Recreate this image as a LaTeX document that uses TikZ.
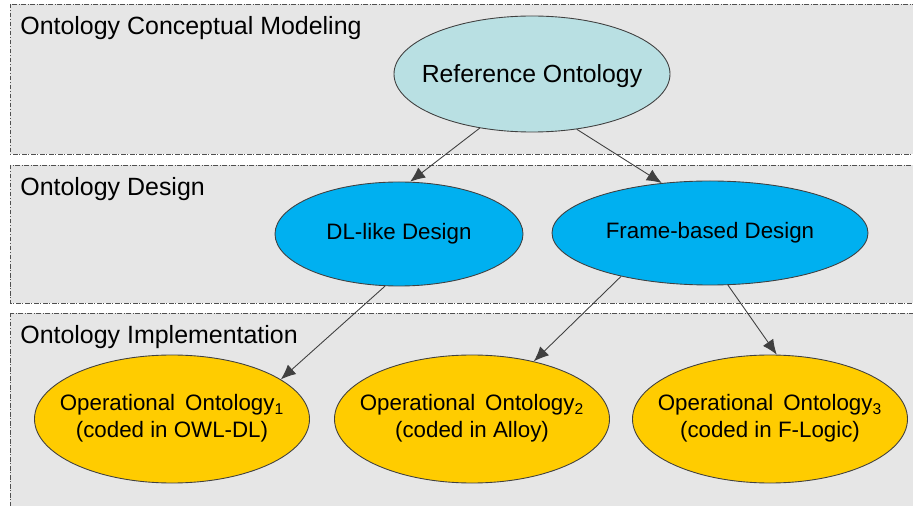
\documentclass[tikz,border=0pt]{standalone}
\usepackage{fontspec}
\setmainfont{Liberation Sans}
\usetikzlibrary{shapes.geometric,arrows.meta}

\definecolor{bandgray}{HTML}{E6E6E6}
\definecolor{bandline}{HTML}{505050}
\definecolor{ovalline}{HTML}{404040}
\definecolor{refcyan}{HTML}{B9E0E3}
\definecolor{designblue}{HTML}{00B0F0}
\definecolor{opyellow}{HTML}{FFCC00}

\newcommand{\ovaltext}[1]{\makebox[0pt]{\begin{tabular}{@{}c@{}}#1\end{tabular}}}

\begin{document}
\begin{tikzpicture}[x=0.2mm,y=-0.2mm,
        band/.style={draw=bandline, fill=bandgray, line width=0.4pt,
            dash pattern=on 0.9mm off 0.35mm on 0.2mm off 0.35mm},
        bandtitle/.style={anchor=base west, inner sep=0pt, font=\fontsize{14.2}{17}\selectfont},
        oval/.style={ellipse, draw=ovalline, line width=0.5pt, inner sep=0pt},
        refnode/.style={oval, fill=refcyan, minimum width=55.2mm, minimum height=23.2mm,
            font=\fontsize{14.1}{17}\selectfont},
        designnode/.style={oval, fill=designblue, minimum height=20.8mm,
            font=\fontsize{12.7}{15.4}\selectfont},
        opnode/.style={oval, fill=opyellow, minimum width=55mm, minimum height=25.6mm,
            font=\fontsize{12.7}{15.4}\selectfont},
        link/.style={draw=ovalline, line width=0.5pt, -{Latex[length=3mm,width=2.5mm]}}
        ]
            \clip (0,0) rectangle (913,506);
            \fill[white] (0,0) rectangle (913,506);

            % layers
            \draw[band] (10,4) rectangle (930,154);
            \draw[band] (10,165) rectangle (930,303);
            \draw[band] (10,313) rectangle (930,520);

            \node[bandtitle] (T1) at (20,35) {Ontology Conceptual Modeling};
            \node[bandtitle] (T2) at (20,196) {Ontology Design};
            \node[bandtitle] (T3) at (20,344) {Ontology Implementation};

            % ovals
            \node[refnode] (R) at (532,74) {\ovaltext{\raisebox{-1.5pt}{Reference Ontology}}};
            \node[designnode, minimum width=49.6mm] (D) at (399,234) {\ovaltext{DL-like Design}};
            \node[designnode, minimum width=63.2mm] (F) at (710,233) {\ovaltext{Frame-based Design}};
            \node[opnode] (O1) at (172,419) {\ovaltext{Operational\hspace{0.45em}Ontology\textsubscript{1}\\(coded in OWL-DL)}};
            \node[opnode] (O2) at (472,419) {\ovaltext{Operational\hspace{0.45em}Ontology\textsubscript{2}\\(coded in Alloy)}};
            \node[opnode] (O3) at (770,419) {\ovaltext{Operational\hspace{0.45em}Ontology\textsubscript{3}\\(coded in F-Logic)}};

            \draw[link] (R.226) -- (D.78);
            \draw[link] (R.309) -- (F.134);
            \draw[link] (D.255) -- (O1.20);
            \draw[link] (F.206) -- (O2.43);
            \draw[link] (F.289) -- (O3.84);

        \end{tikzpicture}
\end{document}
